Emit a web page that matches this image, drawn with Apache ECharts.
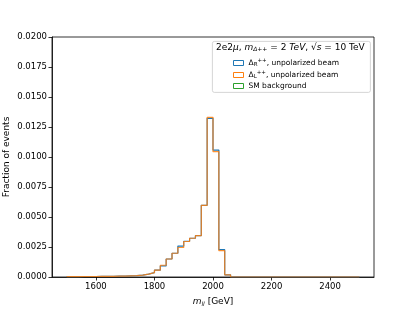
<!DOCTYPE html>
<html>
<head>
<meta charset="utf-8">
<script src="https://cdn.jsdelivr.net/npm/echarts@6/dist/echarts.min.js"></script>
<style>
  html, body { margin: 0; padding: 0; background: #fff; }
  #chart { width: 415px; height: 311px; }
</style>
</head>
<body>
<div id="chart"></div>
<script>
// bin edges: 1500 .. 2500 GeV, 20 GeV wide
const binStart = 1500;
const binWidth = 20;
const xTicks = [1600, 1800, 2000, 2200, 2400];

// fraction of events per bin (50 bins)
const deltaR = [
  0.00003, 0.00003, 0.00004, 0.00004, 0.00004, 0.00005, 0.00005, 0.00006, 0.00007, 0.00008,
  0.00010, 0.00012, 0.00016, 0.00024, 0.00036, 0.00057, 0.00092, 0.00150, 0.00198, 0.00258,
  0.00298, 0.00323, 0.00344, 0.00597, 0.01322, 0.01058, 0.00228, 0.00018, 0, 0,
  0, 0, 0, 0, 0, 0, 0, 0, 0, 0,
  0, 0, 0, 0, 0, 0, 0, 0, 0, 0
];
const deltaL = [
  0.00003, 0.00003, 0.00004, 0.00004, 0.00004, 0.00005, 0.00005, 0.00006, 0.00007, 0.00008,
  0.00010, 0.00012, 0.00016, 0.00024, 0.00036, 0.00057, 0.00098, 0.00150, 0.00198, 0.00246,
  0.00296, 0.00323, 0.00344, 0.00597, 0.01331, 0.01044, 0.00219, 0.00018, 0, 0,
  0, 0, 0, 0, 0, 0, 0, 0, 0, 0,
  0, 0, 0, 0, 0, 0, 0, 0, 0, 0
];
// SM background: no visible entries in this mass window
const smBackground = [];

// turn bin values into step points
function steps(vals) {
  if (!vals.length) return [];
  const pts = vals.map((v, i) => [binStart + i * binWidth, v]);
  pts.push([binStart + vals.length * binWidth, vals[vals.length - 1]]);
  return pts;
}

const font = 'DejaVu Sans';
const colors = { R: '#1f77b4', L: '#ff7f0e', SM: '#2ca02c' };
const legendText = {
  R: '{t|Δ}{sub|R}{sup|++}{t|, unpolarized beam}',
  L: '{t|Δ}{sub|L}{sup|++}{t|, unpolarized beam}',
  SM: '{t|SM background}'
};

function legendItem(n) {
  return { name: n, itemStyle: { color: 'rgba(0,0,0,0)', borderColor: colors[n], borderWidth: 1 } };
}

function histSeries(n, vals, z, opacity) {
  return {
    name: n, type: 'line', step: 'end', showSymbol: false, z: z,
    data: steps(vals),
    itemStyle: { color: colors[n] },
    lineStyle: { color: colors[n], width: 1.2, opacity: opacity }
  };
}

const chart = echarts.init(document.getElementById('chart'));
chart.setOption({
  animation: false,
  textStyle: { fontFamily: font },
  grid: {
    left: 52, right: 41, top: 37, bottom: 34, outerBoundsMode: 'none',
    show: true, borderColor: '#000', borderWidth: 0.8
  },
  xAxis: {
    type: 'value', min: 1450, max: 2550,
    name: '{i|m}{s|ll} [GeV]',
    nameLocation: 'middle', nameGap: 19,
    nameTextStyle: {
      fontSize: 9, color: '#000', fontFamily: font,
      rich: {
        i: { fontSize: 9, fontStyle: 'italic', fontFamily: font },
        s: { fontSize: 6, fontStyle: 'italic', verticalAlign: 'bottom', padding: [5, 0, 0, 0], fontFamily: font }
      }
    },
    splitLine: { show: false },
    axisLine: { onZero: false, lineStyle: { color: '#000', width: 0.8 } },
    axisTick: { customValues: xTicks, length: 3.5, lineStyle: { color: '#000', width: 0.8 } },
    axisLabel: { customValues: xTicks, fontSize: 8.5, color: '#000', margin: 5, formatter: v => String(v) }
  },
  yAxis: {
    type: 'value', min: 0, max: 0.02, interval: 0.0025,
    name: 'Fraction of events',
    nameLocation: 'middle', nameGap: 41, nameMoveOverlap: false,
    nameTextStyle: { fontSize: 9, color: '#000' },
    splitLine: { show: false },
    axisLine: { show: true, lineStyle: { color: '#000', width: 0.8 } },
    axisTick: { show: true, length: 3.5, lineStyle: { color: '#000', width: 0.8 } },
    axisLabel: { fontSize: 8.5, color: '#000', margin: 5, formatter: v => v.toFixed(4) }
  },
  legend: {
    orient: 'vertical', left: 228, top: 53, z: 100,
    itemWidth: 10, itemHeight: 5, itemGap: 2,
    icon: 'rect',
    data: ['R', 'L', 'SM'].map(legendItem),
    formatter: n => legendText[n],
    textStyle: {
      fontSize: 7.5, color: '#000',
      rich: {
        t: { fontSize: 7.5, fontFamily: font, color: '#000' },
        sub: { fontSize: 5.5, fontFamily: font, color: '#000', verticalAlign: 'bottom', padding: [4, 0, 0, 0] },
        sup: { fontSize: 5.5, fontFamily: font, color: '#000', verticalAlign: 'top', padding: [0, 0, 4, 0] }
      }
    }
  },
  graphic: [
    {
      type: 'rect', left: 212, top: 41, z: 50,
      shape: { width: 158, height: 51, r: 2 },
      style: { fill: 'rgba(255,255,255,0.8)', stroke: '#ccc', lineWidth: 0.8 }
    },
    {
      type: 'text', left: 216, top: 43, z: 51,
      style: {
        text: '{n|2e2}{i|μ}{n|, }{i|m}{s|Δ++}{n| = 2 }{i|TeV}{n|, √}{o|s}{n| = 10 TeV}',
        fill: '#000', fontFamily: font, fontSize: 9,
        rich: {
          n: { fontSize: 9, fontFamily: font },
          i: { fontSize: 9, fontFamily: font, fontStyle: 'italic' },
          o: { fontSize: 9, fontFamily: font, fontStyle: 'italic' },
          s: { fontSize: 6, fontFamily: font, fontStyle: 'italic', verticalAlign: 'bottom', padding: [4, 0, 0, 0] }
        }
      }
    }
  ],
  series: [
    histSeries('SM', smBackground, 1, 1),
    histSeries('R', deltaR, 2, 1),
    histSeries('L', deltaL, 3, 0.85)
  ]
});
</script>
</body>
</html>
